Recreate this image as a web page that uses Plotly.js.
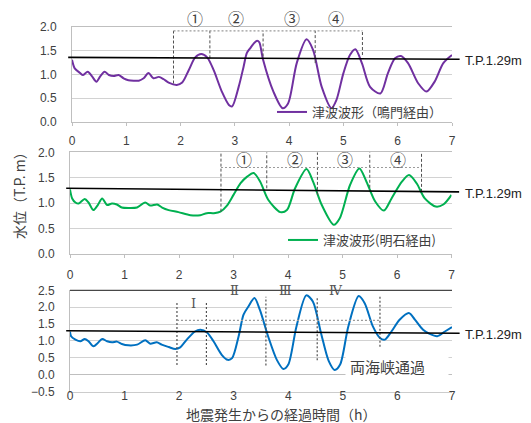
<!DOCTYPE html>
<html><head><meta charset="utf-8">
<script src="https://cdn.plot.ly/plotly-3.0.1.min.js"></script>
<style>html,body{margin:0;padding:0;background:#fff;}#chart{width:531px;height:423px;}</style>
</head><body><div id="chart"></div>
<script>
// ---- data (hours after earthquake, water level T.P. m) ----
const tNaruto = [0,0.05,0.15,0.2,0.29,0.37,0.45,0.52,0.6,0.68,0.77,0.86,0.95,1.04,1.14,1.23,1.32,1.41,1.5,1.6,1.69,1.78,1.93,2.03,2.15,2.27,2.38,2.49,2.61,2.76,2.89,2.95,3.07,3.16,3.22,3.28,3.36,3.41,3.45,3.52,3.71,3.88,3.98,4.14,4.32,4.44,4.6,4.78,4.87,5.0,5.12,5.22,5.34,5.49,5.68,5.82,5.95,6.06,6.19,6.38,6.53,6.68,6.84,7.0];
const hNaruto = [1.31,1.13,1.03,0.99,1.06,0.96,0.85,0.96,1.06,0.99,0.97,0.99,0.92,0.88,0.87,0.87,0.92,1.03,0.92,0.95,0.9,0.83,0.78,0.83,1.09,1.36,1.43,1.36,1.09,0.64,0.36,0.33,0.74,1.16,1.45,1.55,1.67,1.71,1.68,1.31,0.64,0.29,0.39,1.24,1.74,1.52,0.74,0.29,0.46,1.03,1.41,1.53,1.24,0.74,0.6,1.03,1.34,1.39,1.24,0.81,0.64,0.85,1.24,1.41];

const tAkashi = [0,0.04,0.1,0.16,0.27,0.34,0.43,0.51,0.59,0.68,0.77,0.86,0.95,1.08,1.23,1.38,1.47,1.6,1.69,1.81,1.99,2.21,2.39,2.51,2.64,2.76,2.88,3.0,3.13,3.25,3.37,3.49,3.64,3.86,3.98,4.13,4.34,4.46,4.62,4.84,4.95,5.14,5.31,5.44,5.6,5.76,5.9,6.09,6.22,6.36,6.51,6.71,6.85,7.0];
const hAkashi = [1.27,1.09,1.01,0.99,1.08,1.01,0.86,0.96,1.09,0.96,0.99,0.97,0.91,0.9,0.91,1.01,0.95,0.97,0.91,0.86,0.82,0.76,0.76,0.8,0.8,0.83,0.95,1.16,1.39,1.52,1.59,1.42,1.06,0.82,0.86,1.29,1.67,1.42,0.96,0.57,0.7,1.36,1.68,1.42,1.03,0.85,1.09,1.42,1.55,1.39,1.09,0.93,0.97,1.16];

const tBoth = [0,0.02,0.1,0.19,0.27,0.34,0.43,0.51,0.59,0.68,0.77,0.86,0.95,1.07,1.23,1.38,1.47,1.59,1.68,1.81,1.93,2.02,2.14,2.29,2.39,2.51,2.63,2.78,2.89,2.97,3.09,3.18,3.27,3.38,3.48,3.63,3.79,3.91,4.0,4.15,4.33,4.45,4.6,4.74,4.85,4.95,5.1,5.29,5.4,5.55,5.68,5.77,5.89,6.04,6.21,6.32,6.47,6.59,6.73,6.87,7.0];
const hBoth = [1.28,1.14,1.04,0.99,1.06,0.99,0.84,0.94,1.06,0.99,0.96,0.98,0.91,0.87,0.89,1.02,0.92,0.96,0.89,0.82,0.76,0.81,1.04,1.28,1.33,1.25,0.99,0.59,0.44,0.49,1.14,1.78,2.02,2.27,1.92,1.14,0.44,0.17,0.3,1.43,2.35,2.17,1.23,0.41,0.14,0.3,1.43,2.33,2.12,1.43,1.09,1.04,1.28,1.63,1.83,1.63,1.33,1.21,1.14,1.28,1.41];

const seriesNames = ['津波波形（鳴門経由）', '津波波形(明石経由)', '両海峡通過'];
const seriesColors = ['#7030A0', '#00B050', '#0070C0'];

// axis ranges
const xRange = [0, 7];
const yRange12 = [0, 2];
const yRange3 = [-0.5, 2.5];

// T.P. reference line (left / right level as drawn) and its label
const tpLabel = 'T.P.1.29m';
const tpLeft = [1.36, 1.29, 1.30];
const tpRight = [1.32, 1.22, 1.23];
const tpLabelY = [1.30, 1.19, 1.20];

// dashed wave boxes
const p1BoxX = [1.87, 2.54, 3.52, 4.48, 5.35];
const p1BoxBottom = [0.81, 1.34, 1.38, 1.24, 1.41];
const p1BoxTop = 1.92;
const p2BoxX = [2.77, 3.61, 4.54, 5.5, 6.45];
const p2BoxBottom = [0.83, 1.29, 1.16, 1.3, 1.22];
const p2BoxTop = 2.0, p2BoxLevel = 1.7;
const p3BoxX = [1.96, 2.5, 3.59, 4.53, 5.68];
const p3BoxTop = [2.17, 2.17, 2.31, 2.31, 2.36];
const p3BoxBottom = [0.29, 0.29, 0.27, 0.43, 0.83];
const p3BoxLevel = 1.61;

// wave labels
const circled = ['①', '②', '③', '④'];
const p1CircX = [2.27, 3.03, 4.05, 4.87], p1CircY = 2.2;
const p2CircX = [3.2, 4.13, 5.05, 6.02], p2CircY = 1.86;
const roman = ['Ⅰ', 'Ⅱ', 'Ⅲ', 'Ⅳ'];
const romanX = [2.27, 3.02, 3.94, 4.88];
const romanY = [2.12, 2.49, 2.49, 2.49];

const xTitle = '地震発生からの経過時間（h）';
const yTitle = '水位（T.P. m）';

// ---- layout geometry (pixels of the 531x423 picture) ----
const W = 531, H = 423;
const p1Dom = {x: [72, 452], y: [122, 27]};
const p2Dom = {x: [70, 451.5], y: [253.7, 152.3]};
const p3Dom = {x: [70, 452], y: [391.6, 290.3]};
const domX = d => [d.x[0] / W, d.x[1] / W];
const domY = d => [1 - d.y[0] / H, 1 - d.y[1] / H];

// ---- figure ----
const CJK = 'Noto Sans CJK JP, sans-serif';
const SANS = 'Liberation Sans, Arial, sans-serif';
const txt = '#404040';

function trace(t, h, i, xa, ya, leg) {
  return {x: t, y: h, xaxis: xa, yaxis: ya, type: 'scatter', mode: 'lines', name: seriesNames[i],
    line: {color: seriesColors[i], width: 2, shape: 'spline', smoothing: 0.8},
    showlegend: !!leg, legend: leg || 'legend', hoverinfo: 'skip'};
}
const data = [
  trace(tNaruto, hNaruto, 0, 'x', 'y', 'legend'),
  trace(tAkashi, hAkashi, 1, 'x2', 'y2', 'legend2'),
  trace(tBoth, hBoth, 2, 'x3', 'y3', null)
];

const shapes = [];
const vDash = {color: '#505050', width: 1, dash: '3px,2px'};
const hDot = {color: '#9a9a9a', width: 1.2, dash: '2px,2px'};
const vDot = {color: '#505050', width: 1.2, dash: '2px,2px'};
function seg(xr, yr, x0, x1, y0, y1, line) {
  shapes.push({type: 'line', xref: xr, yref: yr, x0: x0, x1: x1, y0: y0, y1: y1, line: line, layer: 'above'});
}
p1BoxX.forEach((bx, i) => seg('x', 'y', bx, bx, p1BoxBottom[i], p1BoxTop, vDash));
seg('x', 'y', p1BoxX[0], p1BoxX[p1BoxX.length - 1], p1BoxTop, p1BoxTop, hDot);
p2BoxX.forEach((bx, i) => seg('x2', 'y2', bx, bx, p2BoxBottom[i], p2BoxTop, vDash));
seg('x2', 'y2', p2BoxX[0], p2BoxX[p2BoxX.length - 1], p2BoxLevel, p2BoxLevel, hDot);
p3BoxX.forEach((bx, i) => seg('x3', 'y3', bx, bx, p3BoxBottom[i], p3BoxTop[i], vDot));
seg('x3', 'y3', p3BoxX[0], p3BoxX[p3BoxX.length - 1], p3BoxLevel, p3BoxLevel, hDot);
shapes.push({type: 'line', xref: 'x3 domain', yref: 'y3 domain', x0: 0, x1: 1, y0: 1, y1: 1, line: {color: '#1a1a1a', width: 1}});
const axPairs = [['x', 'y'], ['x2', 'y2'], ['x3', 'y3']];
axPairs.forEach((p, i) => {
  shapes.push({type: 'line', xref: p[0] + ' domain', yref: p[1], x0: -0.01, x1: 1.02, y0: tpLeft[i], y1: tpRight[i],
    line: {color: '#000', width: 1.6}, layer: 'above'});
});

const annotations = [];
axPairs.forEach((p, i) => {
  annotations.push({xref: p[0] + ' domain', yref: p[1], x: 1.03, y: tpLabelY[i], text: tpLabel, showarrow: false,
    xanchor: 'left', yanchor: 'middle', font: {family: SANS, size: 13, color: '#222'}});
});
// panel 1 numbers sit above the plotted range: map the level onto the paper
const d1 = domY(p1Dom);
const p1CircPaper = d1[0] + (p1CircY - yRange12[0]) / (yRange12[1] - yRange12[0]) * (d1[1] - d1[0]);
p1CircX.forEach((x, i) => annotations.push({xref: 'x', yref: 'paper', x: x, y: p1CircPaper, yanchor: 'middle', text: circled[i], showarrow: false,
  font: {family: CJK, size: 16, color: txt}}));
p2CircX.forEach((x, i) => annotations.push({xref: 'x2', yref: 'y2', x: x, y: p2CircY, text: circled[i], showarrow: false,
  font: {family: CJK, size: 16, color: txt}}));
romanX.forEach((x, i) => annotations.push({xref: 'x3', yref: 'y3', x: x, y: romanY[i], text: roman[i], showarrow: false,
  font: {family: 'DejaVu Serif, Liberation Serif, serif', size: 13, color: '#555'}}));
annotations.push({xref: 'x3', yref: 'y3', x: 5.04, y: 0.26, text: seriesNames[2], showarrow: false, xanchor: 'left', yanchor: 'middle',
  width: 94, height: 20, align: 'left', borderpad: 4, bgcolor: '#fff', font: {family: CJK, size: 15, color: txt}});
annotations.push({xref: 'paper', yref: 'paper', x: 281 / W, y: 1 - 414 / H, text: xTitle, showarrow: false,
  xanchor: 'center', yanchor: 'middle', borderpad: 0, font: {family: CJK, size: 14, color: txt}});
annotations.push({xref: 'paper', yref: 'paper', x: 19 / W, y: 1 - 192 / H, text: yTitle, showarrow: false, textangle: -90,
  xanchor: 'center', yanchor: 'middle', font: {family: CJK, size: 14, color: txt}});

const tickFont = {family: SANS, size: 12, color: txt};
function xa(dom, anchor, extra) {
  return Object.assign({domain: dom, anchor: anchor, range: xRange, tick0: 0, dtick: 1, showgrid: false, zeroline: false,
    showline: true, linecolor: '#bfbfbf', linewidth: 1, ticks: 'outside', ticklen: 3, tickcolor: '#bfbfbf',
    tickfont: tickFont, automargin: false, fixedrange: true}, extra || {});
}
function ya(dom, anchor, range, extra) {
  return Object.assign({domain: dom, anchor: anchor, range: range, tick0: 0, dtick: 0.5, tickformat: '.1f',
    showgrid: true, gridcolor: '#d2d2d2', gridwidth: 1, zeroline: false, showline: true, linecolor: '#bfbfbf',
    ticks: '', ticklabelstandoff: 12, tickfont: tickFont, automargin: false, fixedrange: true}, extra || {});
}

const layout = {
  width: W, height: H, margin: {l: 0, r: 0, t: 0, b: 0}, paper_bgcolor: '#fff', plot_bgcolor: '#fff',
  xaxis: xa(domX(p1Dom), 'y', {mirror: true, ticklabelstandoff: 5}),
  yaxis: ya(domY(p1Dom), 'x', yRange12),
  xaxis2: xa(domX(p2Dom), 'y2', {mirror: true, ticklabelstandoff: 7}),
  yaxis2: ya(domY(p2Dom), 'x2', yRange12),
  xaxis3: xa(domX(p3Dom), 'y3', {linecolor: '#cccccc', ticks: '', ticklabelstandoff: -7}),
  yaxis3: ya(domY(p3Dom), 'x3', yRange3, {zeroline: true, zerolinecolor: '#bfbfbf', zerolinewidth: 1}),
  legend: {x: 272 / W, y: 1 - 112 / H, xanchor: 'left', yanchor: 'middle', bgcolor: 'rgba(0,0,0,0)', borderwidth: 0,
    font: {family: CJK, size: 13, color: txt}},
  legend2: {x: 283 / W, y: 1 - 240 / H, xanchor: 'left', yanchor: 'middle', bgcolor: 'rgba(0,0,0,0)', borderwidth: 0,
    font: {family: CJK, size: 13, color: txt}},
  shapes: shapes,
  annotations: annotations
};

Plotly.newPlot('chart', data, layout, {displayModeBar: false, staticPlot: true});
</script>
</body></html>
